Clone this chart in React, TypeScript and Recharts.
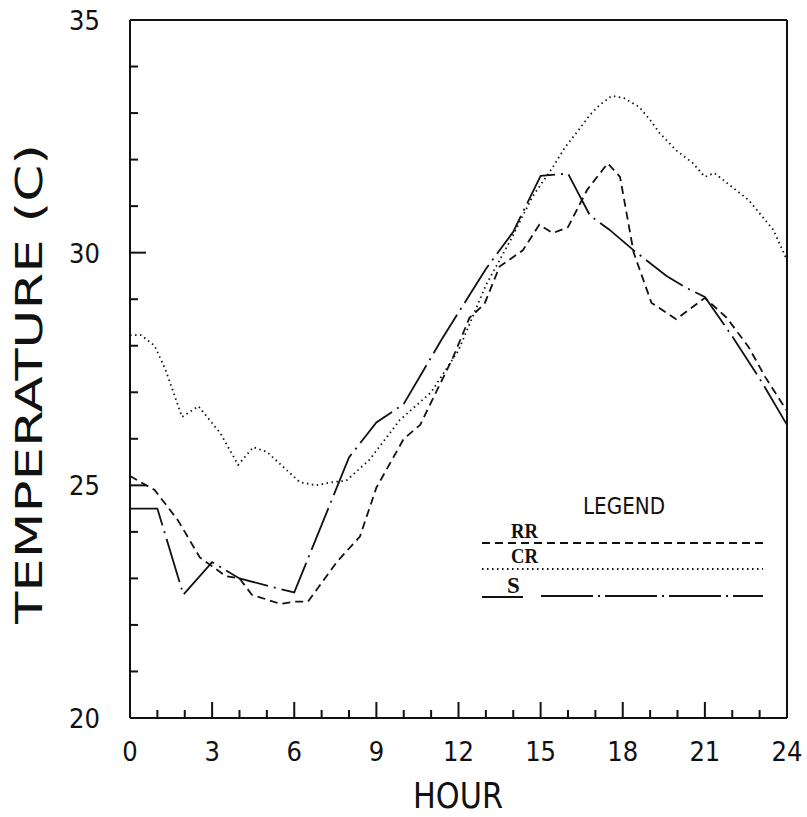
// Temperature by hour — three sites (RR, CR, S). Recharts.

import { LineChart, Line, XAxis, YAxis, ReferenceLine } from "recharts";

const rrHours = [0, 0.9, 1.75, 2.55, 3.5, 4, 4.45, 5.5, 6, 6.5, 7.55, 8.4, 9, 10, 10.6, 11.8, 12.4, 12.95, 13.5, 14.35, 14.95, 15.45, 16, 16.7, 17.45, 17.9, 18.4, 19.05, 19.95, 21, 21.8, 22.6, 23.2, 24];
const rrTemps = [25.2, 24.9, 24.25, 23.45, 23.05, 23, 22.65, 22.45, 22.5, 22.5, 23.35, 23.9, 24.95, 26, 26.3, 27.75, 28.6, 28.9, 29.7, 30.05, 30.6, 30.42, 30.55, 31.35, 31.92, 31.63, 30, 28.92, 28.57, 29.03, 28.6, 27.97, 27.33, 26.6];

const crHours = [0, 0.4, 0.9, 1.3, 1.9, 2.5, 3.3, 3.95, 4.5, 5, 6.2, 6.8, 7.4, 7.9, 8.75, 9.85, 11, 12, 13, 13.9, 14.7, 15.45, 15.9, 16.3, 16.8, 17.15, 17.6, 18.05, 18.6, 19, 19.35, 19.95, 20.55, 21, 21.35, 22.6, 23.5, 24];
const crTemps = [28.23, 28.23, 28, 27.48, 26.47, 26.7, 26.12, 25.44, 25.82, 25.72, 25.07, 25, 25.07, 25.1, 25.55, 26.4, 27, 27.9, 29.3, 30.27, 31.2, 31.84, 32.27, 32.57, 32.96, 33.17, 33.37, 33.32, 33.13, 32.85, 32.57, 32.2, 31.93, 31.63, 31.71, 31.13, 30.49, 29.84];

const sHours = [0, 1, 1.95, 3, 4, 5.3, 6, 8, 9, 10, 11.4, 13, 14, 15, 16, 16.8, 17.5, 18.4, 19.6, 20.3, 21, 22, 23.1, 24];
const sTemps = [24.5, 24.5, 22.65, 23.35, 23, 22.8, 22.7, 25.6, 26.35, 26.75, 28.15, 29.65, 30.45, 31.65, 31.7, 30.8, 30.5, 30.05, 29.5, 29.25, 29.05, 28.2, 27.2, 26.3];

const hourTicks = Array.from({ length: 25 }, (_, i) => i);
const tempTicks = Array.from({ length: 16 }, (_, i) => 20 + i);

const pts = (hs: number[], ts: number[]) => hs.map((h, i) => ({ h, t: ts[i] }));
const rrData = pts(rrHours, rrTemps);
const crData = pts(crHours, crTemps);
const sData = pts(sHours, sTemps);

const INK = "#111";
const AXIS_FONT = "'DejaVu Sans Condensed', 'DejaVu Sans', sans-serif";
const SERIF = "'Liberation Serif', 'DejaVu Serif', serif";

function YTick(props: any) {
  const { x, y, payload } = props;
  const v = payload.value as number;
  const major = v % 5 === 0;
  return (
    <g>
      <line x1={x} y1={y} x2={x + (major ? 16 : 8)} y2={y} stroke={INK} strokeWidth={2} />
      {major && (
        <text x={x - 30} y={y + 10} textAnchor="end" fontFamily={AXIS_FONT} fontWeight={200} fontSize={27} fill={INK}>
          {v}
        </text>
      )}
    </g>
  );
}

function XTick(props: any) {
  const { x, y, payload } = props;
  const v = payload.value as number;
  const major = v % 3 === 0;
  return (
    <g>
      <line x1={x} y1={y} x2={x} y2={y - (major ? 16 : 8)} stroke={INK} strokeWidth={2} />
      {major && (
        <text x={x} y={y + 43} textAnchor="middle" fontFamily={AXIS_FONT} fontWeight={200} fontSize={27} fill={INK}>
          {v}
        </text>
      )}
    </g>
  );
}

function LegendBox() {
  return (
    <svg width={807} height={817} style={{ position: "absolute", left: 0, top: 0, pointerEvents: "none" }}>
      <text x={583} y={514} fontFamily={AXIS_FONT} fontWeight={200} fontSize={23} fill={INK} textLength={82} lengthAdjust="spacingAndGlyphs">
        LEGEND
      </text>
      <text x={511} y={538} fontFamily={SERIF} fontWeight="bold" fontSize={20} fill={INK} textLength={27} lengthAdjust="spacingAndGlyphs">RR</text>
      <line x1={482} y1={543} x2={763} y2={543} stroke={INK} strokeWidth={1.8} strokeDasharray="8 5" />
      <text x={511} y={563} fontFamily={SERIF} fontWeight="bold" fontSize={20} fill={INK} textLength={27} lengthAdjust="spacingAndGlyphs">CR</text>
      <line x1={482} y1={569} x2={763} y2={569} stroke={INK} strokeWidth={1.8} strokeDasharray="1.5 3.5" />
      <text x={507} y={593} fontFamily={SERIF} fontWeight="bold" fontSize={23} fill={INK}>S</text>
      <line x1={482} y1={597} x2={523} y2={597} stroke={INK} strokeWidth={1.8} />
      <line x1={541} y1={596} x2={763} y2={596} stroke={INK} strokeWidth={1.8} strokeDasharray="52 5 2 5" />
      <text x={413} y={808} fontFamily={AXIS_FONT} fontWeight={200} fontSize={36} fill={INK} textLength={90} lengthAdjust="spacingAndGlyphs">
        HOUR
      </text>
      <text
        transform="translate(42, 384) rotate(-90)"
        x={0}
        y={0}
        textAnchor="middle"
        fontFamily={AXIS_FONT}
        fontWeight={200}
        fontSize={38}
        fill={INK}
        textLength={480}
        lengthAdjust="spacingAndGlyphs"
      >
        TEMPERATURE (C)
      </text>
    </svg>
  );
}

export default function App() {
  return (
    <div style={{ position: "absolute", left: 0, top: 0, width: 807, height: 817, background: "#fff" }}>
      <LineChart width={807} height={817} data={sData} margin={{ top: 20, right: 20, bottom: 69, left: 70 }}>
        <XAxis
          dataKey="h"
          type="number"
          domain={[0, 24]}
          ticks={hourTicks}
          interval={0}
          height={30}
          tickSize={0}
          tickMargin={0}
          tickLine={false}
          axisLine={{ stroke: INK, strokeWidth: 2 }}
          tick={<XTick />}
        />
        <YAxis
          type="number"
          domain={[20, 35]}
          ticks={tempTicks}
          interval={0}
          width={60}
          tickSize={0}
          tickMargin={0}
          tickLine={false}
          axisLine={{ stroke: INK, strokeWidth: 2 }}
          tick={<YTick />}
        />
        <ReferenceLine x={24} stroke={INK} strokeWidth={2} />
        <ReferenceLine y={35} stroke={INK} strokeWidth={2} />
        <Line data={rrData} dataKey="t" type="linear" stroke={INK} strokeWidth={1.8} strokeDasharray="8 5" dot={false} isAnimationActive={false} />
        <Line data={crData} dataKey="t" type="linear" stroke={INK} strokeWidth={1.8} strokeDasharray="1.5 3.5" dot={false} isAnimationActive={false} />
        <Line data={sData} dataKey="t" type="linear" stroke={INK} strokeWidth={1.8} strokeDasharray="45 6 2 6" dot={false} isAnimationActive={false} />
      </LineChart>
      <LegendBox />
    </div>
  );
}
